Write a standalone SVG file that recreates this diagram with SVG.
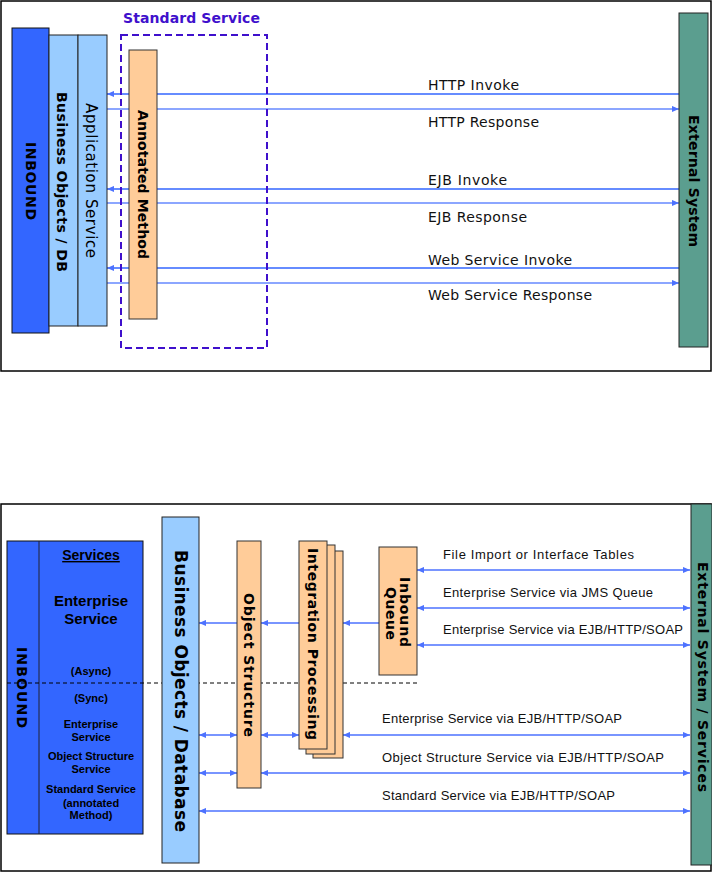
<svg xmlns="http://www.w3.org/2000/svg" width="712" height="872" viewBox="0 0 712 872">
<style>
.frame{fill:#fff;stroke:#000;stroke-width:1.5}
.inb{fill:#3366FF;stroke:#111;stroke-width:1}
.bo{fill:#99CCFF;stroke:#222;stroke-width:1}
.or{fill:#FFCC99;stroke:#333;stroke-width:1}
.ext{fill:#5B9E8F;stroke:#222;stroke-width:1}
.vt{font-family:"DejaVu Sans",Verdana,sans-serif;font-size:14px;font-weight:bold;fill:#000;text-anchor:middle;dominant-baseline:central}
.lbl{font-family:"DejaVu Sans",Verdana,sans-serif;font-size:14px;fill:#111}
.lbl2{font-family:"Liberation Sans",Arial,sans-serif;font-size:13px;fill:#111}
.sv{font-family:"Liberation Sans",Arial,sans-serif;font-weight:bold;fill:#000;text-anchor:middle}
.a1{stroke:#3366FF;stroke-width:1.3;fill:none}
.a2{stroke:#6688FF;stroke-width:1.3;fill:none}
.ar{stroke:#4D72FF;stroke-width:1.3;fill:none}
.end{marker-end:url(#ah)}
.both{marker-start:url(#ah);marker-end:url(#ah)}
</style>
<defs>
<marker id="ah" viewBox="0 0 8 7" refX="8" refY="3.5" markerWidth="7" markerHeight="7" markerUnits="userSpaceOnUse" orient="auto-start-reverse">
<path d="M0,0 L8,3.5 L0,7 z" fill="#4D72FF"/>
</marker>
</defs>

<!-- ===== Top diagram ===== -->
<rect class="frame" x="1" y="1" width="710" height="370"/>

<g id="connectors-top">
<line class="a1 end" x1="679" y1="94" x2="107" y2="94"/>
<line class="a2 end" x1="107" y1="109" x2="679" y2="109"/>
<line class="a1 end" x1="679" y1="189" x2="107" y2="189"/>
<line class="a2 end" x1="107" y1="203" x2="679" y2="203"/>
<line class="a1 end" x1="679" y1="268" x2="107" y2="268"/>
<line class="a2 end" x1="107" y1="283" x2="679" y2="283"/>
<text class="lbl" x="428" y="90" textLength="91">HTTP Invoke</text>
<text class="lbl" x="428" y="127" textLength="111">HTTP Response</text>
<text class="lbl" x="428" y="185" textLength="79">EJB Invoke</text>
<text class="lbl" x="428" y="222" textLength="99">EJB Response</text>
<text class="lbl" x="428" y="265" textLength="144">Web Service Invoke</text>
<text class="lbl" x="428" y="300" textLength="164">Web Service Response</text>
</g>

<g id="inbound-top">
<rect class="inb" x="12" y="28" width="37" height="305"/>
<text class="vt" transform="translate(30.5 181) rotate(90)" textLength="78">INBOUND</text>
</g>
<g id="bo-db-top">
<rect class="bo" x="49" y="35" width="29" height="291"/>
<text class="vt" transform="translate(62 182) rotate(90)" textLength="180">Business Objects / DB</text>
</g>
<g id="app-service">
<rect class="bo" x="78" y="35" width="29" height="291"/>
<text class="vt" style="font-weight:normal;font-size:15px" transform="translate(91 180.5) rotate(90)" textLength="155">Application Service</text>
</g>
<g id="standard-service">
<rect x="121" y="35" width="146" height="313" fill="none" stroke="#3F10CC" stroke-width="2" stroke-dasharray="7,4"/>
<text x="123" y="23" font-family="DejaVu Sans, Verdana, sans-serif" font-size="14" font-weight="bold" fill="#3F10CC" textLength="137">Standard Service</text>
</g>
<g id="annotated-method">
<rect class="or" x="129" y="50" width="28" height="269"/>
<text class="vt" transform="translate(143 184.5) rotate(90)" textLength="149">Annotated Method</text>
</g>
<g id="external-top">
<rect class="ext" x="679" y="13" width="29" height="334"/>
<text class="vt" transform="translate(694 181) rotate(90)" textLength="132">External System</text>
</g>

<!-- ===== Bottom diagram ===== -->
<rect class="frame" x="1" y="504" width="710" height="367"/>

<g id="inbound-services">
<rect class="inb" x="7" y="541" width="136" height="293"/>
<line x1="39" y1="541" x2="39" y2="834" stroke="#223" stroke-width="1"/>
<text class="vt" transform="translate(22 687.5) rotate(90)" textLength="81">INBOUND</text>
<text class="sv" x="91" y="560" font-size="14" text-decoration="underline">Services</text>
<text class="sv" x="91" y="606" font-size="15">Enterprise</text>
<text class="sv" x="91" y="624" font-size="15">Service</text>
<text class="sv" x="91" y="675" font-size="11">(Async)</text>
<text class="sv" x="91" y="702" font-size="11">(Sync)</text>
<text class="sv" x="91" y="728" font-size="11">Enterprise</text>
<text class="sv" x="91" y="741" font-size="11">Service</text>
<text class="sv" x="91" y="760" font-size="11">Object Structure</text>
<text class="sv" x="91" y="773" font-size="11">Service</text>
<text class="sv" x="91" y="793" font-size="11">Standard Service</text>
<text class="sv" x="91" y="807" font-size="11">(annotated</text>
<text class="sv" x="91" y="819" font-size="11">Method)</text>
</g>

<g id="connectors-bottom">
<line x1="7" y1="683" x2="417" y2="683" stroke="#000" stroke-width="1" stroke-dasharray="4,3"/>
<line class="ar end" x1="379" y1="623" x2="343" y2="623"/>
<line class="ar end" x1="299" y1="623" x2="261" y2="623"/>
<line class="ar end" x1="237" y1="623" x2="199" y2="623"/>
<line class="ar both" x1="417" y1="570" x2="690" y2="570"/>
<line class="ar both" x1="417" y1="608" x2="690" y2="608"/>
<line class="ar both" x1="417" y1="645" x2="690" y2="645"/>
<line class="ar both" x1="199" y1="735" x2="237" y2="735"/>
<line class="ar both" x1="261" y1="735" x2="299" y2="735"/>
<line class="ar both" x1="343" y1="735" x2="690" y2="735"/>
<line class="ar both" x1="199" y1="773" x2="237" y2="773"/>
<line class="ar both" x1="261" y1="773" x2="690" y2="773"/>
<line class="ar both" x1="199" y1="811" x2="690" y2="811"/>
<text class="lbl2" x="443" y="559" textLength="191">File Import or Interface Tables</text>
<text class="lbl2" x="443" y="597" textLength="210">Enterprise Service via JMS Queue</text>
<text class="lbl2" x="443" y="634" textLength="240">Enterprise Service via EJB/HTTP/SOAP</text>
<text class="lbl2" x="382" y="723" textLength="240">Enterprise Service via EJB/HTTP/SOAP</text>
<text class="lbl2" x="382" y="762" textLength="282">Object Structure Service via EJB/HTTP/SOAP</text>
<text class="lbl2" x="382" y="800" textLength="233">Standard Service via EJB/HTTP/SOAP</text>
</g>

<g id="bo-database">
<rect class="bo" x="162" y="517" width="37" height="346"/>
<text class="vt" style="font-size:17px" transform="translate(180.5 691) rotate(90)" textLength="282">Business Objects / Database</text>
</g>
<g id="object-structure">
<rect class="or" x="237" y="541" width="24" height="247"/>
<text class="vt" transform="translate(249 665) rotate(90)" textLength="144">Object Structure</text>
</g>
<g id="integration-processing">
<rect class="or" x="313" y="551" width="30" height="207"/>
<rect class="or" x="306" y="545" width="29" height="209"/>
<rect class="or" x="299" y="541" width="28" height="208"/>
<text class="vt" transform="translate(313 644) rotate(90)" textLength="192">Integration Processing</text>
</g>
<g id="inbound-queue">
<rect class="or" x="379" y="547" width="38" height="128"/>
<text class="vt" transform="translate(405 612) rotate(90)" textLength="70">Inbound</text>
<text class="vt" transform="translate(391 613.5) rotate(90)" textLength="53">Queue</text>
</g>
<g id="external-services">
<rect class="ext" x="691" y="504" width="21" height="361"/>
<text class="vt" transform="translate(703 677) rotate(90)" textLength="230">External System / Services</text>
</g>
</svg>
